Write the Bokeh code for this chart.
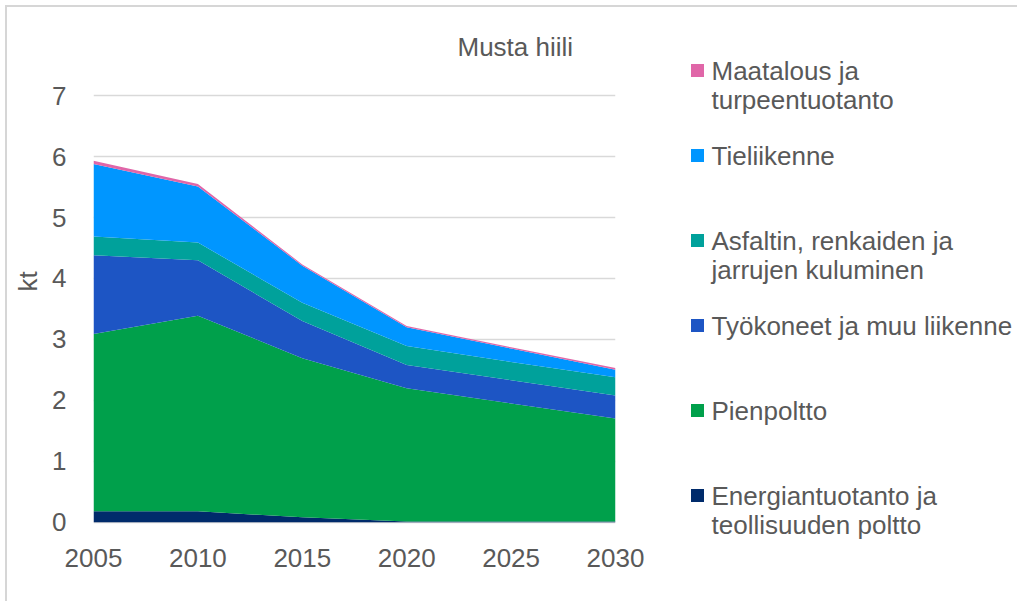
from bokeh.plotting import figure
from bokeh.models import ColumnDataSource, Range1d, FixedTicker
from bokeh.layouts import row
from bokeh.embed import file_html
from bokeh.resources import INLINE
from bokeh.core.properties import value

years = [2005, 2010, 2015, 2020, 2025, 2030]
energia = [0.18, 0.18, 0.08, 0.01, 0.01, 0.01]
pienpoltto = [2.91, 3.21, 2.61, 2.19, 1.94, 1.69]
tyokoneet = [1.29, 0.91, 0.61, 0.38, 0.38, 0.38]
asfaltti = [0.31, 0.29, 0.30, 0.31, 0.30, 0.30]
tieliikenne = [1.19, 0.92, 0.61, 0.31, 0.22, 0.12]
maatalous = [0.05, 0.04, 0.02, 0.02, 0.02, 0.03]

series_keys = ["energia", "pienpoltto", "tyokoneet", "asfaltti", "tieliikenne", "maatalous"]
series_names = [
    ["Energiantuotanto ja", "teollisuuden poltto"],
    ["Pienpoltto"],
    ["Työkoneet ja muu liikenne"],
    ["Asfaltin, renkaiden ja", "jarrujen kuluminen"],
    ["Tieliikenne"],
    ["Maatalous ja", "turpeentuotanto"],
]
colors = ["#002B6B", "#00A04B", "#1D55C4", "#00A19B", "#0096FF", "#E066A8"]
yticks = [0, 1, 2, 3, 4, 5, 6, 7]
chart_title = "Musta hiili"

FONT = "Liberation Sans"
TXT = "#595959"
FS = "26px"

OFF = 7                       # outer frame border (5px margin + 2px line)
W, H, LW = 673, 594, 337
TOP, BOTTOM = 15, 61          # frame spans page y 22..540
LEFT, RIGHT = 86, 65          # frame spans page x 93..615

source = ColumnDataSource(dict(x=years, energia=energia, pienpoltto=pienpoltto,
                               tyokoneet=tyokoneet, asfaltti=asfaltti,
                               tieliikenne=tieliikenne, maatalous=maatalous))

p = figure(width=W, height=H, output_backend="svg", toolbar_location=None,
           x_range=Range1d(2005, 2030), y_range=Range1d(-0.3, 8.2),
           min_border_left=LEFT, min_border_right=RIGHT,
           min_border_top=TOP, min_border_bottom=BOTTOM)
p.varea_stack(series_keys, x="x", color=colors, source=source)

p.outline_line_color = None
p.xgrid.grid_line_color = None
p.ygrid.grid_line_color = "#D9D9D9"
p.ygrid.grid_line_width = 1.5
p.yaxis.ticker = FixedTicker(ticks=yticks)
p.xaxis.ticker = FixedTicker(ticks=years)
for ax in (p.xaxis, p.yaxis):
    ax.major_tick_line_color = None
    ax.minor_tick_line_color = None
    ax.axis_line_color = None
    ax.major_label_text_font = FONT
    ax.major_label_text_font_size = FS
    ax.major_label_text_color = TXT
p.yaxis.major_label_standoff = 21
p.xaxis.major_label_standoff = 2
p.yaxis.axis_label = "kt"
p.yaxis.axis_label_text_font = FONT
p.yaxis.axis_label_text_font_size = FS
p.yaxis.axis_label_text_font_style = "normal"
p.yaxis.axis_label_text_color = TXT
p.yaxis.axis_label_standoff = 6

# chart title, drawn inside the (extended) frame above the 7 gridline
p.text(x=[2025.2], y=[7.79], text=[chart_title], text_font=value(FONT),
       text_font_size=FS, text_color=TXT, text_align="center",
       text_baseline="middle")

# legend panel (data coordinates == page pixel coordinates)
lg_left = OFF + W
lg = figure(width=LW, height=H, output_backend="svg", toolbar_location=None,
            x_range=Range1d(lg_left, lg_left + LW),
            y_range=Range1d(OFF + H - BOTTOM, OFF + TOP),
            min_border_left=0, min_border_right=0,
            min_border_top=TOP, min_border_bottom=BOTTOM)
lg.axis.visible = False
lg.grid.grid_line_color = None
lg.outline_line_color = None

row_y = [495, 410, 325, 240, 155, 70]  # first-line centers, bottom entry first
line_gap = 29
sq_x, sq_y, tx_x, tx_y, tx_t = [], [], [], [], []
for i, names in enumerate(series_names):
    sq_x.append(697)
    sq_y.append(row_y[i])
    for j, t in enumerate(names):
        tx_x.append(711)
        tx_y.append(row_y[i] + j * line_gap)
        tx_t.append(t)
lg.rect(x=sq_x, y=sq_y, width=13, height=13, width_units="screen",
        height_units="screen", color=colors, line_color=None)
lg.text(x=tx_x, y=tx_y, text=tx_t, text_font=value(FONT), text_font_size=FS,
        text_color=TXT, text_baseline="middle", text_align="left")

layout = row(p, lg, styles={"margin-left": "5px", "margin-top": "5px",
                            "border-left": "2px solid #D6D6D6",
                            "border-top": "2px solid #D6D6D6"})
open("out.html", "w").write(file_html(layout, INLINE))
